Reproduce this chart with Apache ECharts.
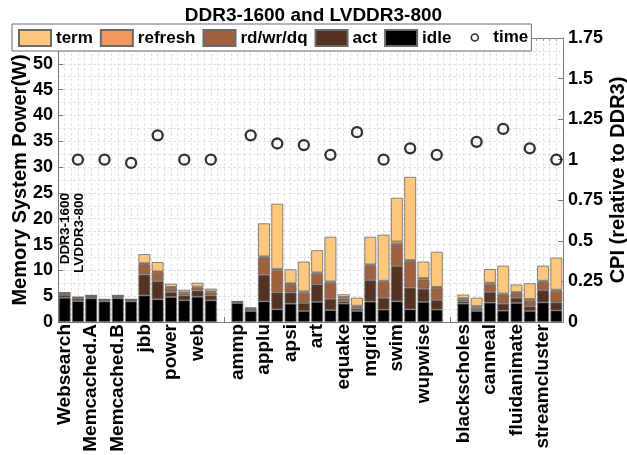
<!DOCTYPE html>
<html>
<head>
<meta charset="utf-8">
<script src="https://cdn.jsdelivr.net/npm/echarts@6/dist/echarts.min.js"></script>
<style>
  html, body { margin: 0; padding: 0; background: #fff; }
  #chart { width: 627px; height: 455px; }
</style>
</head>
<body>
<div id="chart"></div>
<script>
// Benchmarks, in three suites separated by an empty slot
const benchmarks = ['Websearch', 'Memcached.A', 'Memcached.B', 'jbb', 'power', 'web',
  'ammp', 'applu', 'apsi', 'art', 'equake', 'mgrid', 'swim', 'wupwise',
  'blackscholes', 'canneal', 'fluidanimate', 'streamcluster'];
const suiteSizes = [6, 8, 4];

// Power breakdown (W), pairs per benchmark: [DDR3-1600, LVDDR3-800]
const idle = [4.7, 4.05, 4.6, 4.0, 4.6, 4.0, 5.15, 4.4, 4.85, 4.2, 4.9, 4.2,
  3.65, 2.13, 4.0, 2.45, 3.55, 2.15, 3.9, 2.3, 3.56, 2.13, 3.95, 2.4, 4.0, 2.45, 3.9, 2.4,
  3.56, 2.13, 3.75, 2.2, 3.7, 2.15, 3.8, 2.25];
const act = [0.55, 0.5, 0.3, 0.22, 0.3, 0.22, 4.05, 3.5, 0.95, 0.95, 1.2, 0.95,
  0.15, 0.2, 5.15, 3.3, 2.15, 1.55, 3.4, 2.2, 0.45, 0.45, 4.15, 2.3, 6.85, 4.2, 2.55, 1.85,
  0.45, 0.32, 2.05, 1.35, 1.0, 0.9, 2.35, 1.55];
const rdwrdq = [0.3, 0.15, 0.1, 0.07, 0.1, 0.07, 2.0, 1.8, 0.8, 0.4, 0.55, 0.6,
  0.08, 0.2, 3.35, 4.25, 1.65, 1.9, 2.05, 3.1, 0.55, 0.32, 2.85, 3.05, 4.25, 5.15, 1.8, 2.35,
  0.39, 0.32, 1.5, 1.75, 0.9, 1.15, 1.6, 2.2];
const refresh = [0.1, 0.08, 0.12, 0.08, 0.12, 0.08, 0.2, 0.1, 0.2, 0.2, 0.2, 0.2,
  0.08, 0.15, 0.2, 0.25, 0.15, 0.35, 0.25, 0.25, 0.3, 0.25, 0.2, 0.25, 0.5, 0.2, 0.25, 0.2,
  0.2, 0.32, 0.3, 0.2, 0.2, 0.25, 0.25, 0.25];
const term = [0.1, 0.05, 0.06, 0.02, 0.06, 0.03, 1.75, 1.8, 0.6, 0.5, 0.75, 0.5,
  0.04, 0.1, 6.4, 12.65, 2.7, 5.75, 4.3, 8.65, 0.5, 1.55, 5.35, 8.9, 8.45, 16.1, 3.2, 6.8,
  0.7, 1.6, 2.65, 5.4, 1.45, 3.05, 2.9, 6.2];

// LVDDR3-800 CPI relative to DDR3-1600, one per benchmark
const cpi = [1.0, 1.0, 0.98, 1.15, 1.0, 1.0,
  1.15, 1.10, 1.09, 1.03, 1.17, 1.0, 1.07, 1.03,
  1.11, 1.19, 1.07, 1.0];

const powerTicks = { min: 0, max: 55, step: 5 };
const cpiTicks = { min: 0, max: 1.75, step: 0.25 };

const FONT = "'Liberation Sans', Arial, Helvetica, sans-serif";
const GRID_COLOR = '#e2e2e2';
const AXIS_COLOR = '#7a7a7a';

// Slot layout along the x axis: two bars per benchmark, an empty slot between suites
const slots = [];
let bi = 0;
suiteSizes.forEach((n, g) => {
  if (g > 0) slots.push(null);
  for (let i = 0; i < n; i++, bi++) {
    slots.push({ b: bi, k: 0 });
    slots.push({ b: bi, k: 1 });
  }
});
const slotIds = slots.map((s, i) => 'slot' + i);
const slotLabels = slots.map(s => (s && s.k === 0 ? benchmarks[s.b] : ''));
const spread = arr => slots.map(s => (s ? arr[2 * s.b + s.k] : null));
const cpiSlots = slots.map(s => (s && s.k === 1 ? cpi[s.b] : null));

const segments = [
  { name: 'idle', data: idle, color: '#000000' },
  { name: 'act', data: act, color: '#553322' },
  { name: 'rd/wr/dq', data: rdwrdq, color: '#a0623e' },
  { name: 'refresh', data: refresh, color: '#f2995f' },
  { name: 'term', data: term, color: '#fec77e' }
];

const chart = echarts.init(document.getElementById('chart'), null, { renderer: 'canvas' });

const barSeries = segments.map(seg => ({
  name: seg.name,
  type: 'bar',
  stack: 'power',
  xAxisIndex: 0,
  yAxisIndex: 0,
  barCategoryGap: '11%',
  data: spread(seg.data),
  itemStyle: { color: seg.color, borderColor: '#6a6a6a', borderWidth: 0.8 },
  emphasis: { disabled: true },
  animation: false
}));

const textBase = { fontFamily: FONT, fontWeight: 'bold', color: '#000' };

chart.setOption({
  animation: false,
  backgroundColor: '#fff',
  textStyle: { fontFamily: FONT },
  title: {
    text: 'DDR3-1600 and LVDDR3-800',
    left: 'center',
    top: 1,
    textStyle: Object.assign({ fontSize: 19 }, textBase)
  },
  legend: [
    {
      selectedMode: false,
      left: 12,
      top: 24,
      orient: 'horizontal',
      data: ['term', 'refresh', 'rd/wr/dq', 'act', 'idle'],
      icon: 'rect',
      itemWidth: 32,
      itemHeight: 16,
      itemGap: 7,
      padding: [5, 80, 4, 6],
      borderColor: '#6b6b6b',
      borderWidth: 1,
      borderRadius: 0,
      backgroundColor: '#fff',
      textStyle: Object.assign({ fontSize: 17 }, textBase),
      z: 4
    },
    {
      selectedMode: false,
      left: 470.5,
      top: 29,
      padding: 0,
      data: ['time'],
      itemWidth: 7,
      itemHeight: 7,
      itemStyle: { borderWidth: 1.6 },
      textStyle: Object.assign({ fontSize: 17, padding: [0, 0, 0, 10] }, textBase),
      z: 6
    }
  ],
  grid: { left: 58, right: 64, top: 38, bottom: 133, containLabel: false, outerBoundsMode: 'none' },
  xAxis: [
    {
      type: 'category',
      data: slotIds,
      position: 'bottom',
      axisLine: { show: true, lineStyle: { color: AXIS_COLOR, width: 1 } },
      axisTick: { show: true, inside: true, alignWithLabel: true, interval: 0, length: 5, lineStyle: { color: AXIS_COLOR } },
      axisLabel: {
        interval: 0,
        rotate: 90,
        margin: 2,
        fontSize: 19,
        fontWeight: 'bold',
        fontFamily: FONT,
        color: '#000',
        formatter: (v, i) => slotLabels[i]
      },
      splitLine: { show: false }
    },
    {
      // half-slot grid lines and the top frame
      type: 'value',
      min: 0,
      max: slots.length * 2,
      interval: 1,
      position: 'top',
      axisLine: { show: true, onZero: false, lineStyle: { color: AXIS_COLOR, width: 1 } },
      axisTick: { show: true, inside: true, length: 3, lineStyle: { color: '#9a9a9a' } },
      axisLabel: { show: false },
      splitLine: { show: true, lineStyle: { color: GRID_COLOR, type: [3, 2], width: 1 } }
    }
  ],
  yAxis: [
    {
      type: 'value',
      position: 'left',
      min: powerTicks.min,
      max: powerTicks.max,
      interval: powerTicks.step,
      name: 'Memory System Power(W)',
      nameLocation: 'middle',
      nameRotate: 90,
      nameGap: 28,
      nameMoveOverlap: false,
      nameTextStyle: Object.assign({ fontSize: 20 }, textBase),
      axisLine: { show: true, onZero: false, lineStyle: { color: AXIS_COLOR, width: 1 } },
      axisTick: { show: true, inside: true, length: 5, lineStyle: { color: AXIS_COLOR } },
      axisLabel: {
        margin: 5,
        fontSize: 18,
        fontWeight: 'bold',
        fontFamily: FONT,
        color: '#000',
        formatter: v => (v === powerTicks.max ? '' : String(v))
      },
      splitLine: { show: true, lineStyle: { color: GRID_COLOR, type: [3, 2], width: 1 } },
      minorTick: { show: false, splitNumber: 2 },
      minorSplitLine: { show: true, lineStyle: { color: GRID_COLOR, type: [3, 2], width: 1 } }
    },
    {
      type: 'value',
      position: 'right',
      min: cpiTicks.min,
      max: cpiTicks.max,
      interval: cpiTicks.step,
      name: 'CPI (relative to DDR3)',
      nameLocation: 'middle',
      nameRotate: 90,
      nameGap: 45,
      nameMoveOverlap: false,
      nameTextStyle: Object.assign({ fontSize: 20 }, textBase),
      axisLine: { show: true, onZero: false, lineStyle: { color: AXIS_COLOR, width: 1 } },
      axisTick: { show: true, inside: true, length: 5, lineStyle: { color: AXIS_COLOR } },
      axisLabel: {
        margin: 5,
        fontSize: 18,
        fontWeight: 'bold',
        fontFamily: FONT,
        color: '#000'
      },
      splitLine: { show: false }
    }
  ],
  series: barSeries.concat([
    {
      name: 'time',
      type: 'scatter',
      xAxisIndex: 0,
      yAxisIndex: 1,
      symbol: 'circle',
      symbolSize: 10,
      data: cpiSlots,
      itemStyle: { color: 'rgba(255,255,255,0)', borderColor: '#000', borderWidth: 2.3 },
      emphasis: { disabled: true },
      z: 5
    }
  ])
});

// Vertical captions naming the two bars of each pair, anchored above the first pair
const firstD = slots.findIndex(s => s && s.b === 0 && s.k === 0);
const firstL = slots.findIndex(s => s && s.b === 0 && s.k === 1);
const anchorD = chart.convertToPixel({ seriesIndex: 0 }, [firstD, 25]);
const anchorL = chart.convertToPixel({ seriesIndex: 0 }, [firstL, 25]);
const caption = (text, p) => ({
  type: 'text',
  x: p[0] + 1,
  y: p[1],
  rotation: Math.PI / 2,
  z: 10,
  style: {
    text: text,
    align: 'right',
    verticalAlign: 'middle',
    fontSize: 13.5,
    fontWeight: 'bold',
    fontFamily: FONT,
    fill: '#000'
  }
});
chart.setOption({
  graphic: [caption('DDR3-1600', anchorD), caption('LVDDR3-800', anchorL)]
});
</script>
</body>
</html>
